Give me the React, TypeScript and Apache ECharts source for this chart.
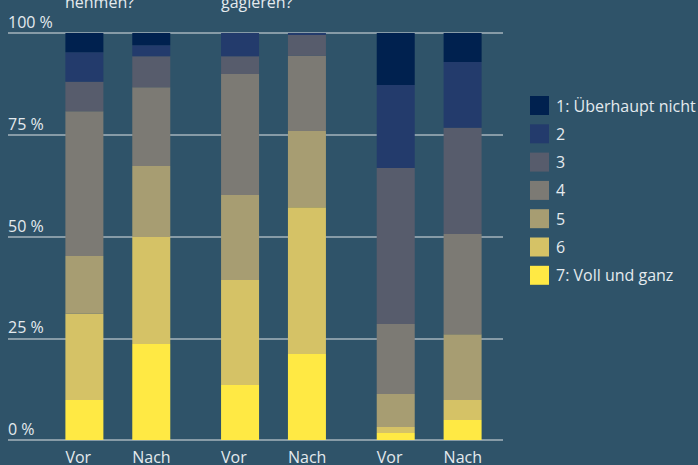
import React, { useEffect, useRef } from "react";
import * as echarts from "echarts";

const groups = ["g1", "g2", "g3"];
const groupTitles = ["nehmen?", "gagieren?", ""];
const levels = ["1: Überhaupt nicht", "2", "3", "4", "5", "6", "7: Voll und ganz"];
const colors = ["#00214f", "#233b6c", "#575c6c", "#7c7a74", "#a79d72", "#d5c266", "#ffe944"];
// percentages per level (1..7) for each group, "Vor" and "Nach"
const vorValues = [
  [4.7, 0, 12.8],
  [7.3, 5.7, 20.4],
  [7.2, 4.4, 38.3],
  [35.6, 29.7, 17.2],
  [14.2, 20.9, 8.1],
  [21.2, 25.8, 1.5],
  [9.8, 13.5, 1.7],
];
const nachValues = [
  [3.0, 0, 7.1],
  [2.7, 0.6, 16.2],
  [7.6, 5.1, 26.1],
  [19.4, 18.5, 24.6],
  [17.4, 18.7, 16.2],
  [26.3, 36.1, 4.9],
  [23.6, 21.1, 4.9],
];
const barLabels = ["Vor", "Nach"];
const yTicks = [0, 25, 50, 75, 100];

const textColor = "#e4eaee";
const font = "'Open Sans', 'Noto Sans', sans-serif";

export default function App() {
  const ref = useRef<HTMLDivElement>(null);
  useEffect(() => {
    if (!ref.current) return;
    const chart = echarts.init(ref.current, undefined, { renderer: "svg" });
    const series: any[] = [];
    [vorValues, nachValues].forEach((vals, si) => {
      for (let li = levels.length - 1; li >= 0; li--) {
        const s: any = {
          type: "bar",
          name: levels[li],
          stack: si === 0 ? "vor" : "nach",
          xAxisIndex: 1,
          yAxisIndex: 1,
          barWidth: 38,
          barGap: "76%",
          data: vals[li],
          itemStyle: { color: colors[li] },
          emphasis: { disabled: true },
        };
        if (li === levels.length - 1) {
          s.label = {
            show: true,
            formatter: barLabels[si],
            position: ["0%", "100%"],
            offset: [0, 9],
            align: "left",
            verticalAlign: "top",
            color: textColor,
            fontSize: 16,
            fontFamily: font,
          };
        }
        series.push(s);
      }
    });
    const graphics = groupTitles.map((t, i) => ({
      type: "text",
      x: [65, 221, 377][i],
      y: 10,
      style: {
        text: t,
        fill: textColor,
        fontSize: 16,
        fontFamily: font,
        textVerticalAlign: "bottom",
        verticalAlign: "bottom",
      },
    }));
    chart.setOption({
      animation: false,
      backgroundColor: "#2f5369",
      textStyle: { fontFamily: font },
      grid: [
        { left: 8, right: 195, top: 33, bottom: 25 },
        { left: 40, width: 467, top: 33, bottom: 25 },
      ],
      xAxis: [
        { type: "value", gridIndex: 0, show: false, min: 0, max: 1 },
        { type: "category", gridIndex: 1, data: groups, show: false },
      ],
      yAxis: [
        {
          type: "value",
          gridIndex: 0,
          min: 0,
          max: 100,
          interval: 25,
          axisLine: { show: false },
          axisTick: { show: false },
          splitLine: { lineStyle: { color: "#a6b3bd", width: 1.5 } },
          axisLabel: {
            inside: true,
            margin: 0,
            verticalAlign: "bottom",
            padding: [0, 0, 3, 0],
            color: textColor,
            fontSize: 16,
            fontFamily: font,
            customValues: yTicks,
            formatter: (v: number) => `${v} %`,
          },
        },
        { type: "value", gridIndex: 1, min: 0, max: 100, show: false },
      ],
      legend: {
        orient: "vertical",
        left: 525,
        top: 91,
        itemWidth: 19,
        itemHeight: 19,
        itemGap: 9.3,
        icon: "rect",
        data: levels,
        selectedMode: false,
        textStyle: { color: textColor, fontSize: 16, fontFamily: font, padding: [0, 0, 0, 2] },
      },
      graphic: graphics,
      series: [
        { type: "line", xAxisIndex: 0, yAxisIndex: 0, data: [], silent: true },
        ...series,
      ],
    });
    return () => chart.dispose();
  }, []);
  return (
    <div
      ref={ref}
      style={{ position: "fixed", left: 0, top: 0, width: 698, height: 465 }}
    />
  );
}
